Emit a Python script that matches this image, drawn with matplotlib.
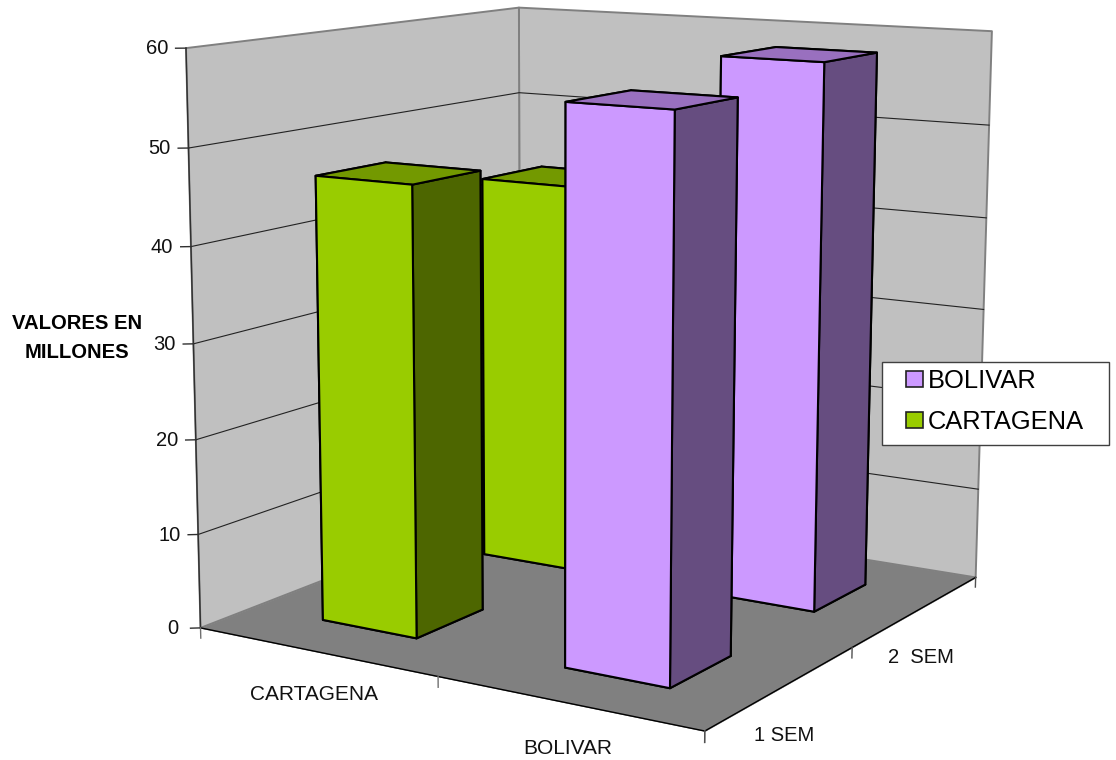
import matplotlib
matplotlib.use("Agg")
import matplotlib.pyplot as plt
import numpy as np
from matplotlib.patches import Patch, Rectangle
from mpl_toolkits.mplot3d import proj3d
from mpl_toolkits.mplot3d.art3d import Poly3DCollection

plt.rcParams["font.family"] = ["Liberation Sans", "DejaVu Sans"]

# Data
categorias = ["CARTAGENA", "BOLIVAR"]
semestres = ["1 SEM", "2  SEM"]
valores_cartagena = [46.8, 42.9]
valores_bolivar = [56.1, 58.0]
valores_z = [0, 10, 20, 30, 40, 50, 60]

W, H = 1116, 760
Z_MAX = 60
X_MAX = len(categorias)
Y_MAX = len(semestres)

# Camera: box corners (x, y, z) matched to where they sit in the image
calib_3d = np.array([
    [0, 0, 0], [2, 0, 0], [2, 2, 0], [0, 2, 0],
    [0, 0, 60], [0, 2, 60], [2, 2, 60],
    [0, 0, 50], [2, 2, 50], [0, 2, 50],
], dtype=float)
calib_px = np.array([
    [201.5, 629], [704, 730.7], [976.7, 577.3], [519, 503],
    [185.7, 48.3], [519.3, 7.3], [992.3, 30.7],
    [188.5, 147], [988.3, 126], [519.3, 93.5],
])


def fit_camera(pts, px):
    rows = []
    for (x, y, z), (u, v) in zip(pts, px):
        rows.append([x, y, z, 1, 0, 0, 0, 0, -u * x, -u * y, -u * z, -u])
        rows.append([0, 0, 0, 0, x, y, z, 1, -v * x, -v * y, -v * z, -v])
    p = np.linalg.svd(np.array(rows))[2][-1].reshape(3, 4)
    if p[2, 3] < 0:
        p = -p
    # third row is depth: -1/w, so nearer points sort last
    return np.array([p[0], p[1], [0, 0, 0, -1], p[2]])


fig = plt.figure(figsize=(W / 100, H / 100), dpi=100)
lado = W / H
ax = fig.add_axes([0, (1 - lado) / 2, 1, lado], projection="3d", computed_zorder=False)
ax.set_axis_off()
ax.set_proj_type("ortho")  # perspective mode masks lines outside -1..1
M = fit_camera(calib_3d, calib_px)
ax.get_proj = lambda: M


def etiqueta(x, y, z, texto, size=14.5):
    u, v, _ = proj3d.proj_transform(x, y, z, M)
    ax.text2D(u, v, texto, transform=ax.transData, ha="center", va="center",
              fontsize=size, color="#111111")


# Walls and floor
pared_izq = [(0, 0, 0), (0, Y_MAX, 0), (0, Y_MAX, Z_MAX), (0, 0, Z_MAX)]
pared_fondo = [(0, Y_MAX, 0), (X_MAX, Y_MAX, 0), (X_MAX, Y_MAX, Z_MAX), (0, Y_MAX, Z_MAX)]
piso = [(0, 0, 0), (X_MAX, 0, 0), (X_MAX, Y_MAX, 0), (0, Y_MAX, 0)]
ax.add_collection3d(Poly3DCollection([pared_izq, pared_fondo], facecolors="#C0C0C0",
                                     edgecolors="#808080", linewidths=1.4, zorder=1))
ax.add_collection3d(Poly3DCollection([piso], facecolors="#808080",
                                     edgecolors="#808080", linewidths=0.5, zorder=2))

# Gridlines
for v in valores_z[1:-1]:
    ax.plot([0, 0, X_MAX], [0, Y_MAX, Y_MAX], [v, v, v], color="#222222", lw=0.8, zorder=3)

# Axis lines
ax.plot([0, 0], [0, 0], [0, Z_MAX], color="#303030", lw=1.0, zorder=3)
ax.plot([0, X_MAX, X_MAX], [0, 0, Y_MAX], [0, 0, 0], color="black", lw=1.0, zorder=3)

# Ticks and labels
for v in valores_z:
    ax.plot([0, -0.027], [0, -0.021], [v, v], color="#303030", lw=1.0, zorder=3)
    etiqueta(-0.075, -0.06, v, str(v))
for i in range(X_MAX + 1):
    ax.plot([i, i], [0, 0], [0, -1.1], color="#707070", lw=1.0, zorder=3)
for j in range(Y_MAX + 1):
    ax.plot([X_MAX, X_MAX], [j, j], [0, -1.1], color="#505050", lw=1.0, zorder=3)
for nombre, x_txt in zip(categorias, [0.77, 1.73]):
    etiqueta(x_txt, -0.36, 0, nombre, size=15)
for nombre, x_txt, y_txt in zip(semestres, [2.226, 2.244], [0.091, 1.023]):
    etiqueta(x_txt, y_txt, 0, nombre)

# Bars
c_verde = ["#4D6600", "#739900", "#99CC00", "#4D6600", "#4D6600", "#4D6600"]
c_morado = ["#664D80", "#9970BF", "#CC99FF", "#664D80", "#664D80", "#664D80"]
orden = 4
for j in [1, 0]:
    for i, (vals, cols) in enumerate([(valores_cartagena, c_verde), (valores_bolivar, c_morado)]):
        ax.bar3d(i + 0.3, j + 0.3, 0, 0.4, 0.4, vals[j], color=cols, shade=False,
                 edgecolor="black", linewidth=1.5, zorder=orden)
        orden += 1

# Legend
fig.add_artist(Rectangle((882 / W, 1 - 445 / H), 227 / W, 83 / H, transform=fig.transFigure,
                         facecolor="white", edgecolor="#404040", lw=1.0, zorder=4))
fig.legend(handles=[Patch(facecolor="#CC99FF", edgecolor="#222222", lw=1.2, label="BOLIVAR"),
                    Patch(facecolor="#99CC00", edgecolor="#222222", lw=1.2, label="CARTAGENA")],
           loc="upper left", bbox_to_anchor=(906 / W, 1 - 369 / H), fontsize=18.4,
           frameon=False, handlelength=0.65, handleheight=0.55, handletextpad=0.2,
           labelspacing=0.66, borderpad=0, borderaxespad=0)

fig.text(76.7 / W, 1 - 323 / H, "VALORES EN", ha="center", va="center", fontsize=14.6, fontweight="bold")
fig.text(76.7 / W, 1 - 352 / H, "MILLONES", ha="center", va="center", fontsize=14.6, fontweight="bold")

# 2D limits of the 3D axes in image pixels
margen = (W - H) / 2
ax.viewLim.intervalx = (0, W)
ax.viewLim.intervaly = (H + margen, -margen)

fig.savefig("out.png", dpi=100)
